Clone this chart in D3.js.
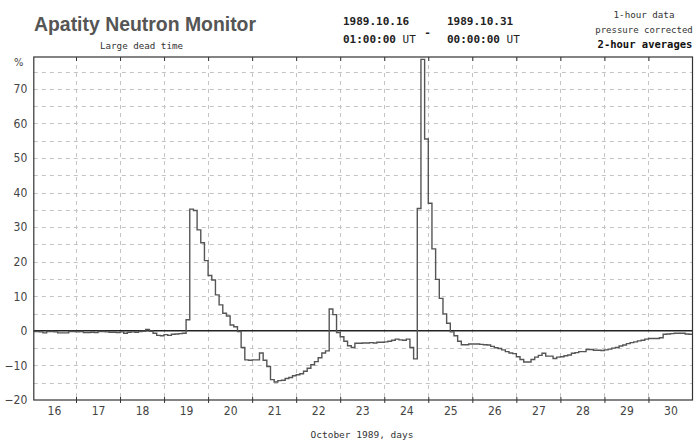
<!DOCTYPE html>
<html>
<head>
<meta charset="utf-8">
<script src="https://cdn.jsdelivr.net/npm/d3@7"></script>
<style>
  body { margin: 0; background: #fff; }
  svg { display: block; }
</style>
</head>
<body>
<div id="chart"></div>
<script>
// day labels on the x axis
const days = [16, 17, 18, 19, 20, 21, 22, 23, 24, 25, 26, 27, 28, 29, 30];
const yTicks = [-20, -10, 0, 10, 20, 30, 40, 50, 60, 70];

// 2-hour averages (%), first bin starts 1989.10.16 00:00 UT, one row = one day
const values = [
  -0.2, -0.2, -0.3, -0.6, -0.2, -0.2, -0.3, -0.6, -0.6, -0.6, -0.2, -0.2,
  -0.3, -0.2, -0.5, -0.5, -0.4, -0.5, -0.2, -0.2, -0.3, -0.4, -0.4, -0.5,
  -0.3, -0.7, -0.4, -0.3, -0.4, -0.2, -0.1, 0.4, -0.1, -0.7, -1.3, -1.4,
  -1.1, -1.3, -1.0, -0.9, -0.8, -0.7, 3.2, 35.2, 34.8, 29.2, 25.5, 20.3,
  16.0, 14.7, 10.4, 7.5, 5.1, 4.3, 1.7, 1.2, -0.2, -4.8, -8.4, -8.5,
  -8.4, -8.4, -6.4, -8.5, -10.3, -14.1, -14.8, -14.4, -14.3, -13.8, -13.5, -13.0,
  -12.7, -12.4, -11.7, -10.8, -9.8, -8.9, -7.8, -6.4, -5.8, 6.3, 4.7, -0.5,
  -1.7, -3.0, -4.3, -4.8, -3.6, -3.6, -3.5, -3.5, -3.4, -3.5, -3.3, -3.3,
  -3.2, -3.0, -2.7, -2.4, -2.6, -2.7, -2.4, -4.8, -8.1, 35.4, 78.5, 55.5,
  36.9, 23.7, 14.9, 9.4, 4.9, 2.2, -0.3, -1.4, -3.0, -4.0, -4.0, -3.8,
  -3.8, -3.8, -3.9, -4.0, -4.1, -4.5, -4.9, -5.1, -5.5, -6.0, -6.4, -6.6,
  -7.5, -8.3, -9.0, -9.0, -8.3, -7.6, -7.1, -6.5, -7.3, -7.3, -8.0, -7.6,
  -7.5, -7.2, -7.0, -6.5, -6.3, -6.0, -6.0, -5.4, -5.4, -5.6, -5.6, -5.7,
  -5.5, -5.3, -5.0, -4.8, -4.4, -4.1, -3.7, -3.4, -3.2, -2.9, -2.7, -2.4,
  -2.2, -2.2, -2.2, -2.0, -1.0, -0.9, -0.8, -0.7, -0.7, -0.7, -0.9, -1.0
];

const width = 695, height = 441;
const plot = { left: 33.8, right: 692.5, top: 57, bottom: 400 };
const mono = "'DejaVu Sans Mono', monospace";
const narrow = "'Liberation Sans Narrow', 'DejaVu Sans Condensed', 'Liberation Sans', sans-serif";
const hour = 3600 * 1000;
const t0 = Date.UTC(1989, 9, 16, 0);

const svg = d3.select("#chart").append("svg")
  .attr("width", width)
  .attr("height", height);

const x = d3.scaleUtc()
  .domain([new Date(t0 + hour), new Date(Date.UTC(1989, 9, 31, 0))])
  .range([plot.left, plot.right]);

const y = d3.scaleLinear()
  .domain([-20, 79.2])
  .range([plot.bottom, plot.top]);

const midnights = days.slice(1).map(d => new Date(Date.UTC(1989, 9, d)));
const noons = days.map(d => new Date(Date.UTC(1989, 9, d, 12)));

// grid
const grid = svg.append("g")
  .attr("stroke", "#c4c4c4")
  .attr("stroke-width", 1)
  .attr("stroke-dasharray", "4,4");

grid.selectAll("line.h")
  .data(d3.range(-15, 80, 5).filter(v => v !== 0))
  .enter().append("line")
  .attr("class", "h")
  .attr("x1", plot.left).attr("x2", plot.right)
  .attr("y1", d => Math.round(y(d)) + 0.5)
  .attr("y2", d => Math.round(y(d)) + 0.5);

grid.selectAll("line.v")
  .data(midnights)
  .enter().append("line")
  .attr("class", "v")
  .attr("y1", plot.top).attr("y2", plot.bottom)
  .attr("x1", d => Math.round(x(d)) + 0.5)
  .attr("x2", d => Math.round(x(d)) + 0.5);

// zero line
svg.append("line")
  .attr("x1", plot.left).attr("x2", plot.right)
  .attr("y1", y(0)).attr("y2", y(0))
  .attr("stroke", "#222")
  .attr("stroke-width", 1.5);

// data, step line
svg.append("clipPath").attr("id", "clip")
  .append("rect")
  .attr("x", plot.left).attr("y", plot.top - 1)
  .attr("width", plot.right - plot.left)
  .attr("height", plot.bottom - plot.top + 1);

const pts = values.map((v, i) => [new Date(t0 + i * 2 * hour), v]);
pts.push([new Date(t0 + values.length * 2 * hour), values[values.length - 1]]);

const line = d3.line()
  .x(d => x(d[0]))
  .y(d => y(d[1]))
  .curve(d3.curveStepAfter);

svg.append("path")
  .datum(pts)
  .attr("clip-path", "url(#clip)")
  .attr("fill", "none")
  .attr("stroke", "#555")
  .attr("stroke-width", 1.4)
  .attr("d", line);

// frame
svg.append("rect")
  .attr("x", plot.left).attr("y", plot.top)
  .attr("width", plot.right - plot.left)
  .attr("height", plot.bottom - plot.top)
  .attr("fill", "none")
  .attr("stroke", "#333")
  .attr("stroke-width", 1.2);

// day ticks on bottom (crossing) and top (inward)
svg.append("g")
  .attr("transform", `translate(0,${plot.bottom})`)
  .call(d3.axisBottom(x).tickValues(midnights).tickSize(3).tickFormat(""))
  .call(g => g.select(".domain").remove());
svg.append("g")
  .attr("transform", `translate(0,${plot.bottom})`)
  .call(d3.axisTop(x).tickValues(midnights).tickSize(3).tickFormat(""))
  .call(g => g.select(".domain").remove());
svg.append("g")
  .attr("transform", `translate(0,${plot.top})`)
  .call(d3.axisBottom(x).tickValues(midnights).tickSize(4).tickFormat(""))
  .call(g => g.select(".domain").remove());
svg.selectAll(".tick line").attr("stroke", "#333");

// day labels
svg.append("g")
  .attr("transform", `translate(0,${plot.bottom})`)
  .call(d3.axisBottom(x).tickValues(noons).tickSize(0).tickPadding(6)
    .tickFormat(d => d.getUTCDate()))
  .call(g => g.select(".domain").remove())
  .selectAll("text")
  .attr("font-family", narrow)
  .attr("font-size", 12)
  .attr("fill", "#444");

// y labels
svg.append("g")
  .attr("transform", `translate(${plot.left},0)`)
  .call(d3.axisLeft(y).tickValues(yTicks).tickSize(0).tickPadding(6.5))
  .call(g => g.select(".domain").remove())
  .selectAll("text")
  .attr("font-family", narrow)
  .attr("font-size", 12)
  .attr("fill", "#444");

svg.append("text")
  .attr("x", 14).attr("y", 66)
  .attr("font-family", narrow)
  .attr("font-size", 11)
  .attr("fill", "#444")
  .text("%");

// header
svg.append("text")
  .attr("x", 34).attr("y", 31)
  .attr("font-family", "'Liberation Sans', Arial, sans-serif")
  .attr("font-weight", "bold")
  .attr("font-size", 20)
  .attr("fill", "#555")
  .attr("textLength", 222)
  .attr("lengthAdjust", "spacingAndGlyphs")
  .text("Apatity Neutron Monitor");

svg.append("text")
  .attr("x", 100).attr("y", 49)
  .attr("font-family", mono)
  .attr("font-size", 9.2)
  .attr("fill", "#333")
  .text("Large dead time");

const hdr = svg.append("g")
  .attr("font-family", mono)
  .attr("font-size", 11)
  .attr("fill", "#222");

function stamp(xp, date, time) {
  hdr.append("text")
    .attr("x", xp).attr("y", 25)
    .attr("font-weight", "bold")
    .text(date);
  const t = hdr.append("text").attr("x", xp).attr("y", 43);
  t.append("tspan").attr("font-weight", "bold").text(time);
  t.append("tspan").text(" UT");
}
stamp(343, "1989.10.16", "01:00:00");
stamp(447, "1989.10.31", "00:00:00");
hdr.append("text")
  .attr("x", 427.5).attr("y", 36)
  .attr("text-anchor", "middle")
  .attr("font-weight", "bold")
  .text("-");

const info = svg.append("g")
  .attr("font-family", mono)
  .attr("text-anchor", "middle")
  .attr("fill", "#333");
info.append("text").attr("x", 644).attr("y", 18)
  .attr("font-size", 9.2).text("1-hour data");
info.append("text").attr("x", 644).attr("y", 33)
  .attr("font-size", 9).text("pressure corrected");
info.append("text").attr("x", 645).attr("y", 48)
  .attr("font-size", 10.5).attr("font-weight", "bold").attr("fill", "#111")
  .text("2-hour averages");

// x title
svg.append("text")
  .attr("x", 362).attr("y", 438)
  .attr("text-anchor", "middle")
  .attr("font-family", mono)
  .attr("font-size", 9.5)
  .attr("fill", "#333")
  .text("October 1989, days");
</script>
</body>
</html>
